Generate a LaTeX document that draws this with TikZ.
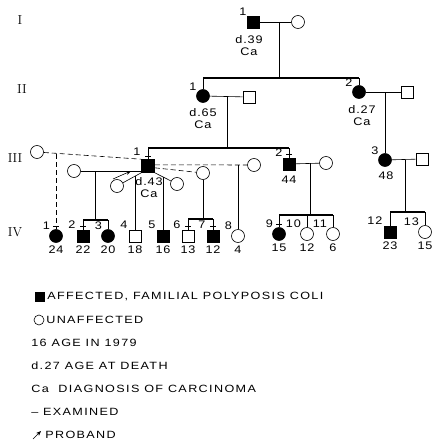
\documentclass[tikz,border=0pt]{standalone}
\usepackage{fontspec}
\newfontfamily\pedfont[FakeStretch=1.15, LetterSpace=8]{Liberation Sans}
\newfontfamily\keyfont[FakeStretch=1.2, LetterSpace=13]{Liberation Sans}
\usetikzlibrary{arrows.meta, calc}

\begin{document}
\begin{tikzpicture}[x=1pt, y=-1pt,
        line width=0.6pt,
        male/.style={draw, rectangle, minimum size=12pt, inner sep=0pt},
        female/.style={draw, circle, minimum size=13pt, inner sep=0pt},
        aff/.style={fill=black},
        lab/.style={font=\pedfont\fontsize{11}{12}\selectfont, inner sep=1pt, align=center},
        keytext/.style={inner sep=1pt, anchor=west, font=\keyfont\fontsize{10.5}{12}\selectfont},
        gen/.style={font=\rmfamily\fontsize{13}{13}\selectfont},
        num/.style={label={[lab]above left:#1}},
        age/.style={label={[lab, label distance=2pt]below:#1}},
        sib/.style={line width=1.1pt},
        spouse/.style={dash pattern=on 5pt off 3pt}
    ]
        \useasboundingbox (0,0) rectangle (433,444);

        % Generation labels
        \node[gen] (gI) at (20,20) {I};
        \node[gen] (gII) at (22,89) {II};
        \node[gen] (gIII) at (15,158) {III};
        \node[gen] (gIV) at (15,232) {IV};

        % Generation I
        \node[male, aff] (I1) at (253,22) {};
        \node[female] (I2) at (298,22) {};
        \node[lab] (I1n) at (243,12) {1};
        \node[lab] (I1d) at (249,46) {d.39\\Ca};
        \draw (I1) -- (I2);
        \coordinate (mI) at (279,22);
        \coordinate (sII) at (279,78);
        \draw (mI) -- (sII);

        % Generation II
        \node[female, aff] (II1) at (203,96) {};
        \node[male] (II1s) at (249,97) {};
        \node[female, aff] (II2) at (359,92) {};
        \node[male] (II2s) at (407,92) {};
        \node[lab] (II1n) at (193,87) {1};
        \node[lab] (II1d) at (203,119) {d.65\\Ca};
        \node[lab] (II2n) at (349,83) {2};
        \node[lab] (II2d) at (362,116) {d.27\\Ca};
        \coordinate (sIIa) at (203,78);
        \coordinate (sIIb) at (359,78);
        \draw[sib] (sIIa) -- (sIIb);
        \draw (sIIa) -- (II1);
        \draw (sIIb) -- (II2);
        \draw (II1) -- (II1s);
        \draw (II2) -- (II2s);

        % Generation III
        \node[male, aff, minimum size=13pt] (III1) at (148,166) {};
        \node[male, aff] (III2) at (289,164) {};
        \node[female] (III2s) at (326,163) {};
        \node[female, aff] (III3) at (385,160) {};
        \node[male] (III3s) at (422,159) {};
        \node[lab] (III1n) at (137,152) {1};
        \node[lab] (III1d) at (149,188) {d.43\\Ca};
        \node[lab] (III2n) at (279,153) {2};
        \node[lab] (III2a) at (289,180) {44};
        \node[lab] (III3n) at (375,151) {3};
        \node[lab] (III3a) at (386,176) {48};
        \coordinate (mII1) at (227,97);
        \coordinate (sIII) at (227,148);
        \draw (mII1) -- (sIII);
        \coordinate (sIIIa) at (148,148);
        \coordinate (sIIIb) at (289,148);
        \draw[sib] (sIIIa) -- (sIIIb);
        \draw (sIIIa) -- (III1);
        \draw (sIIIb) -- (III2);
        \coordinate (mII2) at (385,92);
        \draw (mII2) -- (III3);
        \draw (III2) -- (III2s);
        \draw (III3) -- (III3s);

        % Spouses of III-1
        \node[female] (w1) at (37,152) {};
        \node[female] (w2) at (74,171) {};
        \node[female] (w3) at (117,186) {};
        \node[female] (w4) at (177,184) {};
        \node[female] (w5) at (203,173) {};
        \node[female] (w6) at (254,165) {};
        \draw[spouse] (w1) -- (III1.north west);
        \draw (w2) -- (III1.west |- w2);
        \draw (w3) -- (III1.south west);
        \draw (III1.south east) -- (w4);
        \draw[spouse] (III1.-15) -- (w5);
        \draw[spouse] (III1.10) -- (w6);

        % Proband
        \coordinate (pa) at (113,179);
        \coordinate (pb) at (131,171);
        \draw[-{Stealth[length=5pt, width=4pt]}] (pa) -- (pb);

        % Generation IV
        \node[female, aff, num=1, age=24] (IV1) at (56,236) {};
        \node[male, aff, num=2, age=22] (IV2) at (83,236) {};
        \node[female, aff, num=3, age=20] (IV3) at (108,236) {};
        \node[male, num=4, age=18] (IV4) at (135,236) {};
        \node[male, aff, num=5, age=16] (IV5) at (163,236) {};
        \node[male, num=6, age=13] (IV6) at (188,236) {};
        \node[male, aff, num=7, age=12] (IV7) at (213,236) {};
        \node[female, num=8, age=4] (IV8) at (238,236) {};
        \node[female, aff, num=9, age=15] (IV9) at (279,234) {};
        \node[female, num=10, age=12] (IV10) at (307,234) {};
        \node[female, num=11, age=6] (IV11) at (333,234) {};
        \node[male, aff, num=12, age=23] (IV12) at (390,232) {};
        \node[female, num=13, age=15] (IV13) at (425,232) {};

        % Lines of descent
        \coordinate (d1) at (56,154);
        \draw[spouse] (d1) -- (IV1);
        \coordinate (d2) at (95,171);
        \coordinate (s23) at (95,220);
        \draw (d2) -- (s23);
        \draw[sib] (IV2 |- s23) -- (IV3 |- s23);
        \draw (IV2 |- s23) -- (IV2);
        \draw (IV3 |- s23) -- (IV3);
        \coordinate (d3) at (135,176);
        \draw (d3) -- (IV4);
        \coordinate (d4) at (163,177);
        \draw (d4) -- (IV5);
        \coordinate (s67) at (203,219);
        \draw (w5) -- (s67);
        \draw[sib] (IV6 |- s67) -- (IV7 |- s67);
        \draw (IV6 |- s67) -- (IV6);
        \draw (IV7 |- s67) -- (IV7);
        \coordinate (d6) at (238,165);
        \draw (d6) -- (IV8);
        \coordinate (mIII2) at (310,163);
        \coordinate (s911) at (310,215);
        \draw (mIII2) -- (s911);
        \draw[sib] (IV9 |- s911) -- (IV11 |- s911);
        \draw (IV9 |- s911) -- (IV9);
        \draw (IV10 |- s911) -- (IV10);
        \draw (IV11 |- s911) -- (IV11);
        \coordinate (mIII3) at (405,160);
        \coordinate (s1213) at (405,212);
        \draw (mIII3) -- (s1213);
        \draw[sib] (IV12 |- s1213) -- (IV13 |- s1213);
        \draw (IV12 |- s1213) -- (IV12);
        \draw (IV13 |- s1213) -- (IV13);

        % Examined
        \foreach \n in {III1, III2, IV1, IV2, IV6, IV7, IV9}
            \draw ([xshift=-3pt, yshift=3pt]\n.north) -- ([xshift=3pt, yshift=3pt]\n.north);

        % Key
        \node[male, aff, minimum size=9pt] (kA) at (40,297) {};
        \node[keytext] (kAt) at (46,297) {AFFECTED, FAMILIAL POLYPOSIS COLI};
        \node[female, minimum size=10pt] (kU) at (39,320) {};
        \node[keytext] (kUt) at (45,320) {UNAFFECTED};
        \node[keytext] (kAg) at (30,343) {16 AGE IN 1979};
        \node[keytext] (kD) at (30,366) {d.27 AGE AT DEATH};
        \node[keytext] (kCa) at (30,389) {Ca\ \ DIAGNOSIS OF CARCINOMA};
        \node[keytext] (kE) at (30,412) {– EXAMINED};
        \coordinate (kPa) at (33,439);
        \coordinate (kPb) at (41,431);
        \draw[-{Stealth[length=5pt, width=4pt]}] (kPa) -- (kPb);
        \node[keytext] (kPt) at (44,435) {PROBAND};
    \end{tikzpicture}
\end{document}
